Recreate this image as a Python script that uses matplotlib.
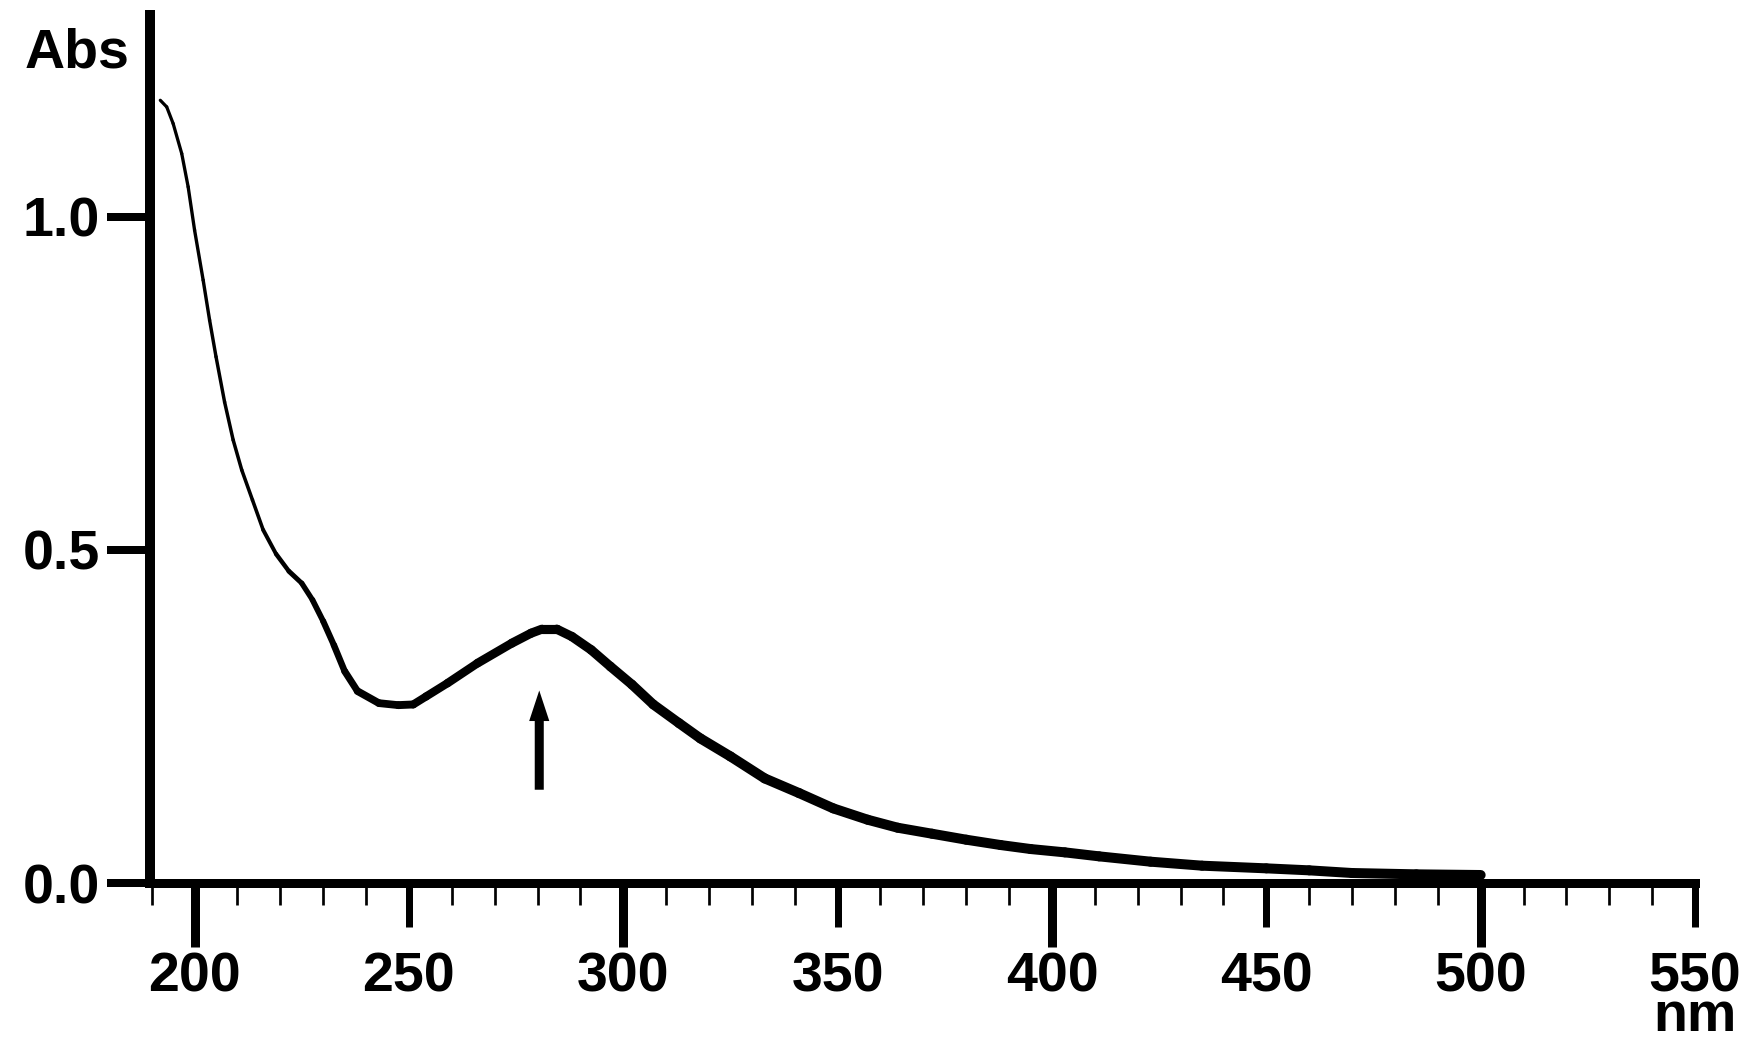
import numpy as np
import matplotlib
matplotlib.use("Agg")
import matplotlib.pyplot as plt
from matplotlib.collections import LineCollection
from matplotlib.ticker import MultipleLocator

plt.rcParams["font.family"] = ["Liberation Sans", "DejaVu Sans"]
plt.rcParams["font.weight"] = "bold"

# UV-Vis absorption spectrum
wavelength = [192.0, 193.5, 195.0, 197.0, 198.5, 200.0, 202.0, 203.5, 205.0, 207.0,
              209.0, 211.0, 213.5, 216.0, 219.0, 222.0, 225.0, 227.5, 230.0, 232.5,
              235.0, 238.0, 243.0, 247.5, 251.0, 254.0, 259.0, 266.0, 274.0, 278.5,
              281.0, 284.5, 288.0, 292.5, 297.0, 302.0, 307.0, 313.0, 318.0, 325.0,
              333.0, 341.0, 349.0, 357.0, 364.0, 372.0, 380.0, 388.0, 395.0, 403.0,
              411.0, 423.0, 435.0, 450.0, 460.0, 470.0, 485.0, 500.0]
absorbance = [1.175, 1.165, 1.140, 1.095, 1.045, 0.980, 0.905, 0.845, 0.790, 0.722,
              0.665, 0.620, 0.575, 0.530, 0.494, 0.468, 0.450, 0.425, 0.393, 0.357,
              0.318, 0.288, 0.270, 0.267, 0.268, 0.280, 0.300, 0.330, 0.360, 0.375,
              0.381, 0.381, 0.370, 0.350, 0.325, 0.298, 0.268, 0.240, 0.217, 0.190,
              0.157, 0.135, 0.112, 0.095, 0.083, 0.074, 0.065, 0.057, 0.051, 0.046,
              0.040, 0.032, 0.026, 0.022, 0.019, 0.015, 0.013, 0.012]

x_ticks = [200, 250, 300, 350, 400, 450, 500, 550]
x_tick_labels = ["200", "250", "300", "350", "400", "450", "500", "550\nnm"]
x_long_ticks = [200, 300, 400, 500]
y_ticks = [0.0, 0.5, 1.0]
y_tick_labels = ["0.0", "0.5", "1.0"]

# arrow marking the band near 280 nm
arrow_x = 280.4
arrow_y0, arrow_y1 = 0.140, 0.289

PX = 72 / 100  # points per pixel at dpi 100

fig = plt.figure(figsize=(17.55, 10.52), dpi=100)
ax = fig.add_axes([150 / 1755, 1 - 883 / 1052, 1545 / 1755, 868 / 1052])

x = np.array(wavelength)
y = np.array(absorbance)
pts = np.column_stack([x, y])
segs = np.stack([pts[:-1], pts[1:]], axis=1)
xm = 0.5 * (x[:-1] + x[1:])
# trace gets heavier as it flattens out
widths = np.interp(xm, [192, 215, 240, 275, 320], [3.2, 3.6, 7.5, 9.0, 10.0]) * PX
lc = LineCollection(segs, linewidths=widths, colors="black", capstyle="round",
                    joinstyle="round")
ax.add_collection(lc)

ax.set_xlim(189.6, 550)
ax.set_ylim(0, 1.303)

for s in ["top", "right"]:
    ax.spines[s].set_visible(False)
ax.spines["left"].set_linewidth(10 * PX)
ax.spines["bottom"].set_linewidth(9 * PX)

ax.set_xticks(x_ticks)
ax.set_xticklabels(x_tick_labels)
for lbl in ax.get_xticklabels():
    lbl.set_linespacing(0.69)
ax.xaxis.set_minor_locator(MultipleLocator(10))
ax.tick_params(axis="x", which="major", direction="out", length=44 * PX,
               width=7 * PX, pad=24 * PX, labelsize=40)
ax.tick_params(axis="x", which="minor", direction="out", length=22 * PX,
               width=2.7 * PX)

ax.set_yticks(y_ticks)
ax.set_yticklabels(y_tick_labels)
ax.tick_params(axis="y", which="major", direction="out", length=43 * PX,
               width=8 * PX, pad=7 * PX, labelsize=40)

sec = ax.secondary_xaxis("bottom")
sec.set_xticks(x_long_ticks)
sec.tick_params(axis="x", length=64 * PX, width=9 * PX, labelbottom=False)
sec.spines["bottom"].set_visible(False)

ax.annotate("", xy=(arrow_x, arrow_y1), xytext=(arrow_x, arrow_y0),
            arrowprops=dict(arrowstyle="simple,head_length=2.2,head_width=1.45,tail_width=0.65",
                            mutation_scale=10, fc="black", ec="none",
                            shrinkA=0, shrinkB=0))

fig.text(25 / 1755, 1 - 68 / 1052, "Abs", ha="left", va="baseline",
         fontsize=40, fontweight="bold")

fig.savefig("out.png", dpi=100)
